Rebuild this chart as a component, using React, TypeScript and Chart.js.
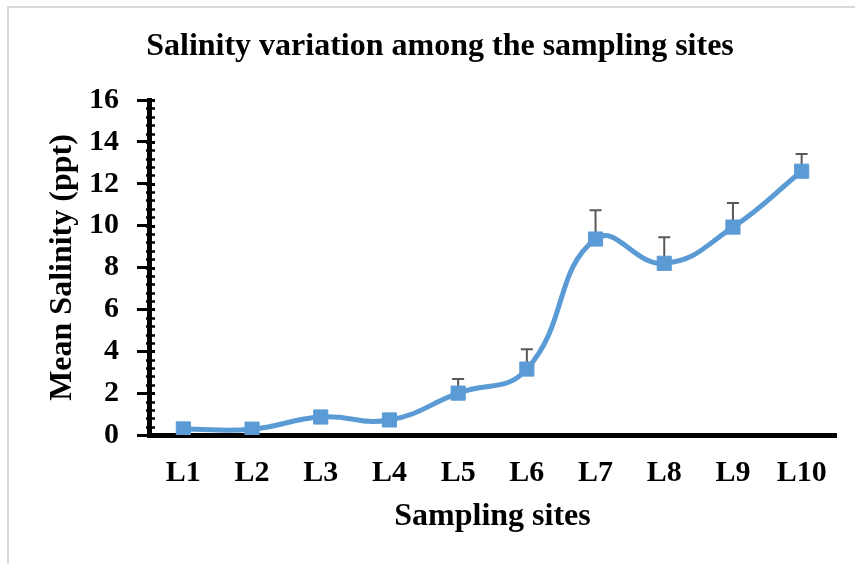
import React, { useEffect, useRef } from "react";
import { Chart, registerables } from "chart.js";

Chart.register(...registerables);

const categories = ["L1", "L2", "L3", "L4", "L5", "L6", "L7", "L8", "L9", "L10"];
const meanSalinity = [0.29, 0.28, 0.86, 0.72, 2.0, 3.15, 9.36, 8.2, 9.93, 12.6];
const upperError = [0.05, 0.05, 0.1, 0.1, 0.67, 0.95, 1.38, 1.25, 1.15, 0.82];
const yMin = 0;
const yMax = 16;
const yStep = 2;
const minorStep = 0.4;

const FONT = "'Liberation Serif', 'Times New Roman', serif";

const errorBarPlugin = {
  id: "errorBars",
  beforeDatasetsDraw(chart: any) {
    const { ctx, scales } = chart;
    const x = scales.x;
    const y = scales.y;
    ctx.save();
    ctx.strokeStyle = "#595959";
    ctx.lineWidth = 2;
    meanSalinity.forEach((v, i) => {
      const px = x.getPixelForValue(i);
      const py = y.getPixelForValue(v);
      const pt = y.getPixelForValue(v + upperError[i]);
      ctx.beginPath();
      ctx.moveTo(px, py);
      ctx.lineTo(px, pt);
      ctx.moveTo(px - 6, pt);
      ctx.lineTo(px + 6, pt);
      ctx.stroke();
    });
    ctx.restore();
  },
  afterDraw(chart: any) {
    const { ctx, scales } = chart;
    const y = scales.y;
    const left = chart.chartArea.left;
    ctx.save();
    ctx.strokeStyle = "#000";
    const n = Math.round((yMax - yMin) / minorStep);
    for (let k = 0; k <= n; k++) {
      const v = yMin + k * minorStep;
      const isMajor = Math.abs(v / yStep - Math.round(v / yStep)) < 1e-6;
      const py = Math.round(y.getPixelForValue(v)) + 0.5;
      ctx.lineWidth = isMajor ? 3 : 2.5;
      ctx.beginPath();
      ctx.moveTo(left - 3, py);
      ctx.lineTo(left + 6, py);
      ctx.stroke();
    }
    ctx.restore();
  },
};

export default function App() {
  const ref = useRef<HTMLCanvasElement | null>(null);

  useEffect(() => {
    if (!ref.current) return;
    const chart = new Chart(ref.current, {
      type: "line",
      data: {
        labels: categories,
        datasets: [
          {
            label: "Mean Salinity",
            data: meanSalinity,
            borderColor: "#5B9BD5",
            backgroundColor: "#5B9BD5",
            borderWidth: 5,
            tension: 0.45,
            pointStyle: "rect",
            pointRadius: 10,
            pointBackgroundColor: "#5B9BD5",
            pointBorderColor: "#5B9BD5",
            pointBorderWidth: 1,
            fill: false,
          },
        ],
      },
      options: {
        responsive: false,
        animation: false,
        devicePixelRatio: 1,
        layout: { padding: { left: 44, right: 19, top: 0, bottom: 0 } },
        plugins: {
          legend: { display: false },
          tooltip: { enabled: false },
          title: {
            display: true,
            text: "Salinity variation among the sampling sites",
            color: "#000",
            font: { family: FONT, size: 32, weight: "bold", lineHeight: 1.2 },
            padding: { top: 28, bottom: 33.6 },
          },
        },
        scales: {
          x: {
            type: "category",
            offset: true,
            grid: { display: false, drawTicks: false, drawOnChartArea: false },
            border: { display: true, color: "#000", width: 5 },
            ticks: {
              color: "#000",
              padding: 20,
              font: { family: FONT, size: 30, weight: "bold", lineHeight: 1.2 },
            },
            title: {
              display: true,
              text: "Sampling sites",
              color: "#000",
              font: { family: FONT, size: 32, weight: "bold", lineHeight: 1.2 },
              padding: { top: 0, bottom: 28 },
            },
            afterFit(scale: any) {
              scale.height = 129;
            },
          },
          y: {
            min: yMin,
            max: yMax,
            grid: {
              display: true,
              drawOnChartArea: false,
              drawTicks: true,
              tickLength: 12,
              tickWidth: 3,
              tickColor: "#000",
            },
            border: { display: true, color: "#000", width: 5 },
            ticks: {
              stepSize: yStep,
              color: "#000",
              padding: 18,
              font: { family: FONT, size: 30, weight: "bold", lineHeight: 1.2 },
            },
            title: {
              display: true,
              text: "Mean Salinity (ppt)",
              color: "#000",
              font: { family: FONT, size: 32, weight: "bold", lineHeight: 1.2 },
              padding: { top: 0, bottom: 0 },
            },
            afterFit(scale: any) {
              scale.width = 105;
            },
          },
        },
      },
      plugins: [errorBarPlugin],
    } as any);
    return () => chart.destroy();
  }, []);

  return (
    <div
      style={{
        position: "fixed",
        left: 0,
        top: 0,
        width: 855,
        height: 564,
        background: "#fff",
        overflow: "hidden",
      }}
    >
      <div
        style={{
          position: "absolute",
          left: 7,
          top: 6,
          width: 900,
          height: 620,
          borderLeft: "2px solid #d9d9d9",
          borderTop: "2px solid #d9d9d9",
        }}
      />
      <canvas
        ref={ref}
        width={855}
        height={564}
        style={{ position: "absolute", left: 0, top: 0, width: 855, height: 564 }}
      />
    </div>
  );
}
